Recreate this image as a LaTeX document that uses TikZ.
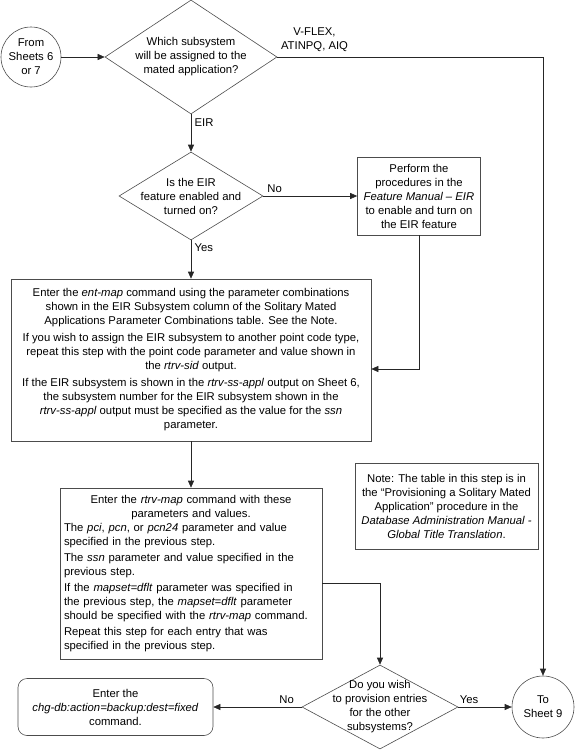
\documentclass[tikz,border=0pt]{standalone}
\usepackage{fontspec}
\setmainfont{Liberation Sans}
\usetikzlibrary{arrows.meta,positioning,shapes.geometric}
\tikzset{
	>={Triangle[length=7pt,width=6pt]}, % filled arrow heads
	every node/.style={font=\fontsize{11.3}{14}\selectfont},
	flow/.style={->, draw=black!85},
	connector/.style={circle, draw=black!70, inner sep=0pt, align=center},
	process/.style={rectangle, draw=black!70, align=center, inner sep=3pt},
	decision/.style={diamond, draw=black!70, inner sep=0pt},
	terminal/.style={process, rounded corners=9pt},
}
\begin{document}
\begin{tikzpicture}[x=1pt, y=-1pt, on grid, line width=0.6pt]
	\useasboundingbox (0,0) rectangle (575,756);

	\node[connector, minimum size=60pt] (from) at (31,57) {From\\Sheets 6\\or 7};
	\node[decision, minimum width=172pt, minimum height=114pt, right=160pt of from,
		label={[align=center]center:Which subsystem\\will be assigned to the\\mated application?}] (which) {};
	\node[decision, minimum width=144pt, minimum height=88pt, below=139pt of which,
		label={[align=center]center:Is the EIR\\feature enabled and\\turned on?}] (eir) {};
	\node[process, minimum width=123pt, minimum height=78pt, right=228pt of eir] (feat)
		{Perform the\\procedures in the\\\textit{Feature Manual – EIR}\\to enable and turn on\\the EIR feature};
	\node[process, minimum width=360pt, minimum height=162pt, below=164pt of eir] (entmap)
		{Enter the \textit{ent-map} command using the parameter combinations\\
		shown in the EIR Subsystem column of the Solitary Mated\\
		Applications Parameter Combinations table. See the Note.\\[3pt]
		If you wish to assign the EIR subsystem to another point code type,\\
		repeat this step with the point code parameter and value shown in\\
		the \textit{rtrv-sid} output.\\[3pt]
		If the EIR subsystem is shown in the \textit{rtrv-ss-appl} output on Sheet 6,\\
		the subsystem number for the EIR subsystem shown in the\\
		\textit{rtrv-ss-appl} output must be specified as the value for the \textit{ssn}\\
		parameter.};
	\node[process, text width=254pt, inner xsep=4pt, align=left, minimum height=171pt,
		below=213.5pt of entmap] (rtrvmap)
		{{\centering Enter the \textit{rtrv-map} command with these\\ parameters and values.\par}
		The \textit{pci}, \textit{pcn}, or \textit{pcn24} parameter and value\\
		specified in the previous step.\\[2pt]
		The \textit{ssn} parameter and value specified in the\\
		previous step.\\[2pt]
		If the \textit{mapset=dflt} parameter was specified in\\
		the previous step, the \textit{mapset=dflt} parameter\\
		should be specified with the \textit{rtrv-map} command.\\[2pt]
		Repeat this step for each entry that was\\
		specified in the previous step.};
	\node[process, minimum width=183pt, minimum height=86pt] (note) at (446.5,506)
		{Note: The table in this step is in\\
		the “Provisioning a Solitary Mated\\
		Application" procedure in the\\
		\textit{Database Administration Manual -}\\
		\textit{Global Title Translation}.};
	\node[decision, minimum width=156pt, minimum height=84pt,
		label={[align=center]center:Do you wish\\to provision entries\\for the other\\subsystems?}] (prov) at (380,707) {};
	\node[terminal, minimum width=195pt, minimum height=57pt, left=264.5pt of prov] (backup)
		{Enter the\\\textit{chg-db:action=backup:dest=fixed}\\command.};
	\node[connector, minimum size=62pt, right=163pt of prov] (to9) {To\\Sheet 9};

	\draw[flow] (from) -- (which);
	\draw[flow] (which.east) -| node[above=2pt, pos=0.07, align=center] {V-FLEX,\\ATINPQ, AIQ} (to9.north);
	\draw[flow] (which.south) -- node[right, pos=0.22] {EIR} (eir.north);
	\draw[flow] (eir.east) -- node[above, pos=0.12] {No} (feat.west);
	\draw[flow] (eir.south) -- node[right, pos=0.2] {Yes} (entmap.north);
	\draw[flow] (feat.south) |- ([yshift=-9pt]entmap.east);
	\draw[flow] (entmap.south) -- (rtrvmap.north);
	\draw[flow] ([yshift=-10pt]rtrvmap.east) -| (prov.north);
	\draw[flow] (prov.west) -- node[above, pos=0.17] {No} (backup.east);
	\draw[flow] (prov.east) -- node[above, pos=0.2] {Yes} (to9.west);
\end{tikzpicture}
\end{document}
